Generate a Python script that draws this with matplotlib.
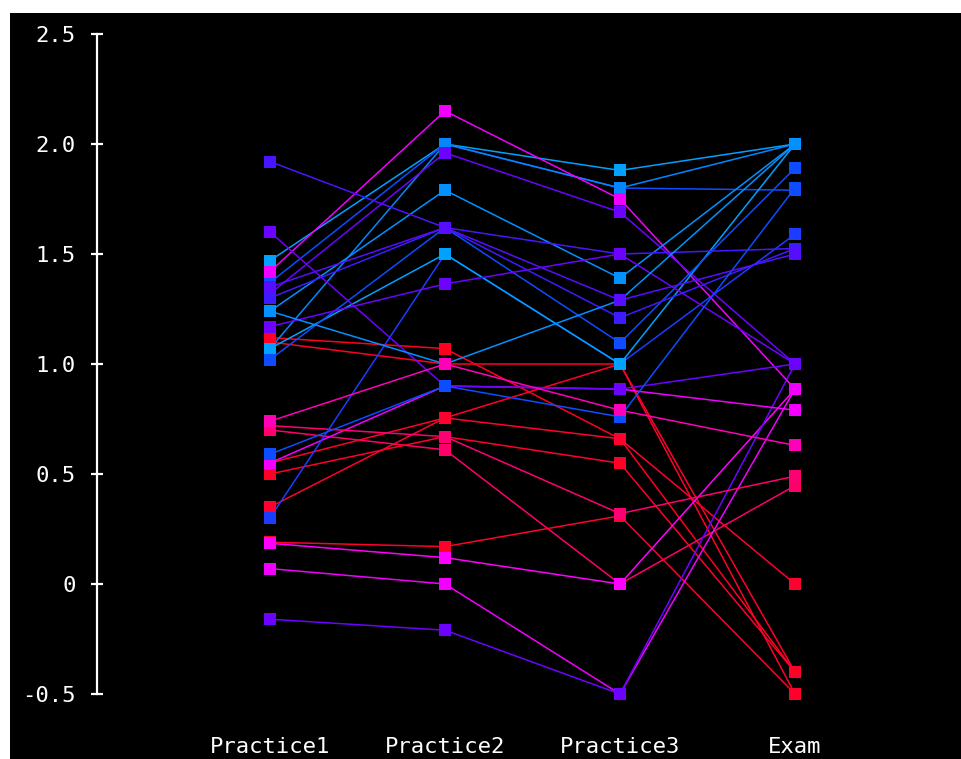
import matplotlib
matplotlib.use("Agg")
import matplotlib.pyplot as plt
from matplotlib.colors import LinearSegmentedColormap

# ---------------- data ----------------
categories = ["Practice1", "Practice2", "Practice3", "Exam"]

practice1 = [1.12, 1.10, 0.70, 0.55, 0.50, 0.35, 0.19, 0.185, 0.07,
             -0.16, 0.55, 0.72, 0.30,
             1.47, 1.37, 1.07, 1.42, 1.32, 1.24, 1.07, 1.02, 1.92, 1.60,
             1.17, 1.30, 1.24, 0.59, 1.35,
             0.74]
practice2 = [1.07, 1.00, 0.61, 0.755, 0.67, 0.755, 0.17, 0.12, 0.00,
             -0.21, 0.90, 0.67, 1.50,
             2.00, 2.00, 2.00, 2.15, 1.96, 1.79, 1.50, 1.62, 1.62, 0.90,
             1.364, 1.62, 1.00, 0.90, 1.62,
             1.00]
practice3 = [0.66, 1.00, 0.00, 1.00, 0.549, 0.66, 0.31, 0.00, -0.50,
             -0.50, 0.886, 0.32, 1.00,
             1.88, 1.80, 1.80, 1.75, 1.69, 1.39, 1.00, 1.096, 1.50, 0.886,
             1.50, 1.21, 1.29, 0.76, 1.29,
             0.79]
exam = [-0.40, -0.50, 0.447, -0.40, -0.40, 0.00, -0.50, 0.886, 0.886,
        1.00, 0.79, 0.49, 1.59,
        2.00, 1.79, 2.00, 0.886, 1.00, 2.00, 2.00, 1.89, 1.525, 1.00,
        1.00, 1.525, 2.00, 1.80, 1.50,
        0.63]
# colour value of each line (0 = red ... 1 = sky blue)
shade = [0.00, 0.02, 0.18, 0.03, 0.02, 0.04, 0.03, 0.40, 0.42,
         0.62, 0.42, 0.20, 0.82,
         1.00, 0.85, 0.95, 0.42, 0.62, 0.97, 1.00, 0.85, 0.72, 0.62,
         0.62, 0.75, 0.97, 0.85, 0.68,
         0.30]

y_ticks = [-0.5, 0, 0.5, 1.0, 1.5, 2.0, 2.5]
y_tick_labels = ["-0.5", "0", "0.5", "1.0", "1.5", "2.0", "2.5"]

# ---------------- style ----------------
cmap = LinearSegmentedColormap.from_list("score", [
    (0.00, (1.00, 0.00, 0.12)),
    (0.20, (1.00, 0.00, 0.45)),
    (0.40, (1.00, 0.00, 1.00)),
    (0.60, (0.45, 0.00, 1.00)),
    (0.75, (0.25, 0.10, 1.00)),
    (0.85, (0.05, 0.30, 1.00)),
    (1.00, (0.00, 0.63, 1.00)),
])

W, H = 962, 759
fig = plt.figure(figsize=(W / 100, H / 100), dpi=100, facecolor="white")
ax = fig.add_axes([10 / W, 0, (W - 10) / W, (H - 13) / H])
ax.set_facecolor("black")

# pixel layout -> data limits
x0_px, dx_px = 270, 175
y0_px, dy_px = 584, 220
ax.set_xlim((10 - x0_px) / dx_px, (W - x0_px) / dx_px)
ax.set_ylim((y0_px - H) / dy_px, (y0_px - 13) / dy_px)

xs = list(range(len(categories)))
series = list(zip(practice1, practice2, practice3, exam))

for vals, s in zip(series, shade):
    ax.plot(xs, vals, color=cmap(s), lw=1.1, zorder=2, solid_capstyle="butt")
for vals, s in zip(series, shade):
    ax.plot(xs, vals, ls="none", marker="s", ms=8, mew=0,
            color=cmap(s), zorder=3)

# axes styling
for side in ("top", "right"):
    ax.spines[side].set_visible(False)
ax.spines["left"].set_position(("data", (97 - x0_px) / dx_px))
ax.spines["left"].set_bounds(-0.5, 2.5)
ax.spines["left"].set_color("white")
ax.spines["left"].set_linewidth(1.6)
ax.spines["bottom"].set_position(("data", (y0_px - 733) / dy_px))
ax.spines["bottom"].set_color("none")

ax.set_yticks(y_ticks)
ax.set_yticklabels(y_tick_labels)
ax.tick_params(axis="y", direction="inout", length=9, width=1.6,
               color="white", labelcolor="white", pad=11,
               labelsize=16)
ax.set_xticks(xs)
ax.set_xticklabels(categories)
ax.tick_params(axis="x", length=0, labelcolor="white", pad=3, labelsize=16)
for lab in ax.get_xticklabels() + ax.get_yticklabels():
    lab.set_fontfamily("DejaVu Sans Mono")

fig.savefig("out.png", dpi=100, facecolor="white")
